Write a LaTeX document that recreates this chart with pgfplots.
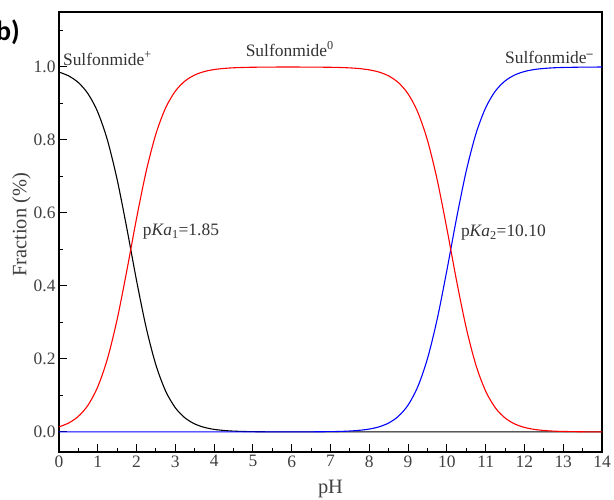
\documentclass[border=0pt]{standalone}
\usepackage{pgfplots}
\pgfplotsset{compat=1.18}
\usepackage{fontspec}
\setmainfont{Liberation Serif}
\setsansfont{Carlito}
\begin{document}
\begin{tikzpicture}
\begin{axis}[
  scale only axis, width=543bp, height=440bp,
  xmin=0, xmax=14, ymin=-0.055, ymax=1.1507,
  xtick={0,1,...,14}, minor xtick={0.5,1.5,...,13.5},
  ytick={0,0.2,...,1.0}, minor ytick={0.1,0.3,0.5,0.7,0.9,1.1},
  xtick pos=bottom, ytick pos=left, tick align=inside,
  major tick length=8bp, minor tick length=4.5bp,
  every tick/.style={black, line width=1pt},
  axis line style={line width=1.2pt},
  /pgf/number format/assume math mode=true,
  yticklabel style={/pgf/number format/fixed, /pgf/number format/precision=1, /pgf/number format/fixed zerofill},
  tick label style={font=\fontsize{17.5}{20}\selectfont, text=black!75},
  xlabel={pH}, ylabel={Fraction (\%)},
  label style={font=\fontsize{20.5}{24}\selectfont, text=black!75},
  xlabel style={at={(axis description cs:0.5,0)}, anchor=base, yshift=-41bp},
  ylabel style={at={(axis description cs:-0.069,0.516)}, anchor=center},
  clip=false,
]
\addplot[black, line width=1.1pt, smooth] coordinates {
(0,0.9861)(0.25,0.9755)(0.5,0.9572)(0.75,0.9264)(1,0.8762)(1.25,0.7992)(1.5,0.6912)(1.75,0.5573)
(2,0.4145)(2.25,0.2848)(2.5,0.1829)(2.75,0.1118)(3,0.0661)(3.25,0.0383)(3.5,0.0219)(3.75,0.0124)
(4,0.0070)(4.25,0.0040)(4.5,0.0022)(4.75,0.0013)(5,0.0007)(5.5,0.0002)(6,0)(8,0)(10,0)(12,0)(14,0)
};
\addplot[blue, line width=1.1pt, smooth] coordinates {
(0,0)(2,0)(4,0)(6,0)(6.5,0.0003)(7,0.0008)(7.25,0.0014)(7.5,0.0025)(7.75,0.0045)(8,0.0079)(8.25,0.0139)
(8.5,0.0245)(8.75,0.0428)(9,0.0736)(9.25,0.1238)(9.5,0.2008)(9.75,0.3088)(10,0.4427)
(10.25,0.5855)(10.5,0.7152)(10.75,0.8171)(11,0.8882)(11.25,0.9339)(11.5,0.9617)(11.75,0.9781)
(12,0.9876)(12.25,0.9930)(12.5,0.9960)(12.75,0.9978)(13,0.9987)(13.5,0.9996)(14,0.9999)
};
\addplot[red, line width=1.1pt, smooth] coordinates {
(0,0.0139)(0.25,0.0245)(0.5,0.0428)(0.75,0.0736)(1,0.1238)(1.25,0.2008)(1.5,0.3088)(1.75,0.4427)
(2,0.5855)(2.25,0.7152)(2.5,0.8171)(2.75,0.8882)(3,0.9339)(3.25,0.9617)(3.5,0.9781)(3.75,0.9876)
(4,0.9930)(4.25,0.9960)(4.5,0.9978)(4.75,0.9987)(5,0.9993)(5.5,0.9998)(6,0.9999)(6.5,0.9997)
(7,0.9992)(7.25,0.9986)(7.5,0.9975)(7.75,0.9956)(8,0.9921)(8.25,0.9861)(8.5,0.9755)(8.75,0.9572)
(9,0.9264)(9.25,0.8762)(9.5,0.7992)(9.75,0.6912)(10,0.5573)(10.25,0.4145)(10.5,0.2848)
(10.75,0.1829)(11,0.1118)(11.25,0.0661)(11.5,0.0383)(11.75,0.0219)(12,0.0124)(12.25,0.0070)
(12.5,0.0040)(12.75,0.0022)(13,0.0013)(13.5,0.0004)(14,0.0001)
};
\node[anchor=base west, inner sep=0pt, font=\fontsize{17.5}{20}\selectfont, text=black!80] at (axis cs:0.1,1.005) {Sulfonmide\textsuperscript{+}};
\node[anchor=base, inner sep=0pt, font=\fontsize{17.5}{20}\selectfont, text=black!80] at (axis cs:5.95,1.03) {Sulfonmide\textsuperscript{0}};
\node[anchor=base west, inner sep=0pt, font=\fontsize{17.5}{20}\selectfont, text=black!80] at (axis cs:11.5,1.01) {Sulfonmide\textsuperscript{\textbf{--}}};
\node[anchor=west, inner sep=0pt, font=\fontsize{17.5}{20}\selectfont, text=black!80] at (axis cs:2.16,0.548) {p\textit{Ka}\textsubscript{1}=1.85};
\node[anchor=west, inner sep=0pt, font=\fontsize{17.5}{20}\selectfont, text=black!80] at (axis cs:10.36,0.545) {p\textit{Ka}\textsubscript{2}=10.10};
\coordinate (bl) at (rel axis cs:0,0);
\coordinate (tr) at (rel axis cs:1,1);
\coordinate (tl) at (rel axis cs:0,1);
\end{axis}
\node[font=\sffamily\bfseries\fontsize{28}{30}\selectfont, inner sep=0pt] at ([shift={(-51bp,-20bp)}]tl) {b)};
\pgfresetboundingbox
\path[use as bounding box] ([shift={(-59bp,-48bp)}]bl) rectangle ([shift={(12bp,12bp)}]tr);
\end{tikzpicture}
\end{document}
